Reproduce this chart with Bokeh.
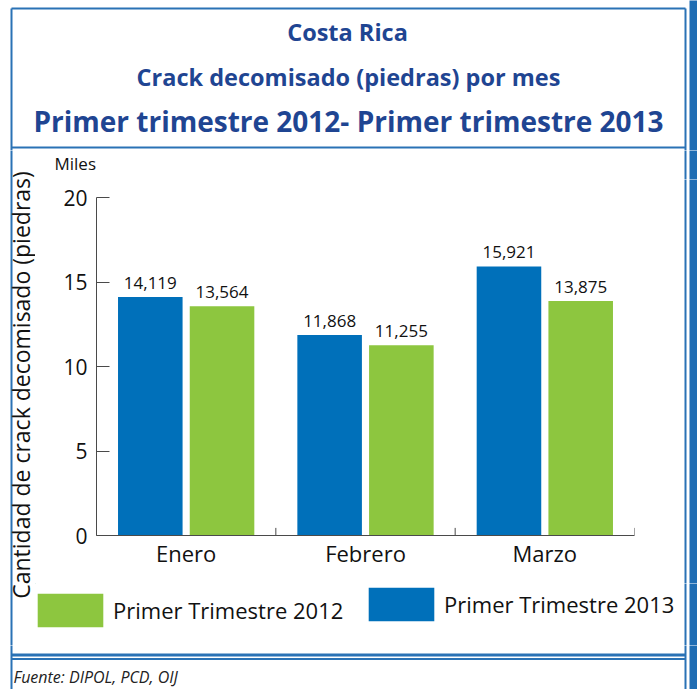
from bokeh.plotting import figure
from bokeh.models import (ColumnDataSource, FactorRange, Range1d, FixedTicker,
                          LabelSet, Legend, LegendItem)
from bokeh.layouts import column, row
from bokeh.transform import dodge
from bokeh.embed import file_html
from bokeh.resources import INLINE
from bokeh.core.properties import value

# ---- data ----
months = ["Enero", "Febrero", "Marzo"]
values_2013 = [14119, 11868, 15921]
values_2012 = [13564, 11255, 13875]
y_ticks = [0, 5, 10, 15, 20]
series_names = ["Primer Trimestre 2012", "Primer Trimestre 2013"]
titles = ["Costa Rica", "Crack decomisado (piedras) por mes",
          "Primer trimestre 2012- Primer trimestre 2013"]
y_title = "Cantidad de crack decomisado (piedras)"
unit_label = "Miles"
source_note = "Fuente: DIPOL, PCD, OIJ"

BLUE = "#0070BA"
GREEN = "#8DC63F"
TITLE_C = "#1F4592"
BORDER_C = "#2A72B5"
BAR_C = "#1F6DB3"
AXIS_C = "#4A4A4A"
FONT = "Open Sans"

W, H = 697, 689
BX0, BX1 = 11, 685          # outer box left / right lines
THICK = (689, 697)           # right thick rule
U_BOTTOM = 179               # bottom of the strip that carries the unit label


def deco(x0, x1, y0, y1):
    """A frame-only figure whose data units are page pixels (y grows downward)."""
    f = figure(width=x1 - x0, height=y1 - y0, x_range=Range1d(x0, x1), y_range=Range1d(y1, y0),
               x_axis_type=None, y_axis_type=None, min_border=0, toolbar_location=None,
               output_backend="svg", frame_align=False)
    f.outline_line_color = None
    f.background_fill_color = "white"
    f.border_fill_color = "white"
    if f.title is not None:
        f.title.visible = False
    return f


def vline(f, x, y0, y1, lw=2):
    # run slightly past the strip's edges so that adjacent strips join seamlessly
    f.segment(x0=[x], y0=[y0 - 2], x1=[x], y1=[y1 + 2], line_color=BORDER_C, line_width=lw)


def hline(f, y, x0, x1, lw=2):
    f.segment(x0=[x0], y0=[y], x1=[x1], y1=[y], line_color=BORDER_C, line_width=lw)


def thick(f, y0, y1):
    f.quad(left=[THICK[0]], right=[THICK[1] + 2], top=[y0 - 2], bottom=[y1 + 2],
           fill_color=BAR_C, line_color=None)


def txt(f, x, y, t, size, font=FONT, style="normal", color="#111111", align="center", angle=0):
    # y is the vertical middle of the text line
    f.text(x=[x], y=[y], text=[t], text_font=value(font), text_font_size=size,
           text_font_style=style, text_color=color, text_align=align,
           text_baseline="middle", angle=angle, angle_units="deg")


# ---- top: titles ----
T = deco(0, W, 0, 150)
hline(T, 8, BX0, BX1)
hline(T, 147, BX0, BX1)
T.segment(x0=[BX0, BX1], y0=[8, 8], x1=[BX0, BX1], y1=[152, 152], line_color=BORDER_C, line_width=2)
thick(T, 0, 150)
txt(T, 347, 31, titles[0], "23.5px", style="bold", color=TITLE_C)
txt(T, 348, 76.3, titles[1], "23.5px", style="bold", color=TITLE_C)
txt(T, 348, 120.5, titles[2], "28px", style="bold", color=TITLE_C)

# ---- left strip: y-axis title ----
L = deco(0, 35, 150, 645)
vline(L, BX0, 150, 645)
txt(L, 20, 384.5, y_title, "23px", angle=90)

# ---- strip above the plot: unit label ----
U = deco(35, W, 150, U_BOTTOM)
vline(U, BX1, 150, U_BOTTOM)
thick(U, 150, U_BOTTOM)
txt(U, 54, 163.2, unit_label, "17px", align="left")

# ---- main chart ----
src = ColumnDataSource(dict(
    month=months,
    y2013=[v / 1000 for v in values_2013],
    y2012=[v / 1000 for v in values_2012],
    lab2013=[f"{v:,}" for v in values_2013],
    lab2012=[f"{v:,}" for v in values_2012],
))

M = figure(width=613, height=583 - U_BOTTOM, x_range=FactorRange(*months), y_range=Range1d(0, 20),
           output_backend="svg", toolbar_location=None, frame_align=False,
           min_border_left=61, min_border_right=14, min_border_top=197 - U_BOTTOM,
           min_border_bottom=48)
M.xgrid.visible = False
M.ygrid.visible = False
M.outline_line_color = None
M.background_fill_color = "white"
M.border_fill_color = "white"

ya = M.yaxis[0]
ya.ticker = FixedTicker(ticks=y_ticks)
ya.major_tick_in = 13
ya.major_tick_out = 0
ya.minor_tick_in = 0
ya.minor_tick_out = 0
ya.axis_line_color = AXIS_C
ya.major_tick_line_color = AXIS_C
ya.major_label_text_font = FONT
ya.major_label_text_font_size = "21px"
ya.major_label_text_color = "#111111"
ya.major_label_standoff = 9

xa = M.xaxis[0]
xa.major_tick_in = 0
xa.major_tick_out = 0
xa.axis_line_color = AXIS_C
xa.major_label_text_font = FONT
xa.major_label_text_font_size = "22px"
xa.major_label_text_color = "#111111"
xa.major_label_standoff = 2

M.vbar(x=dodge("month", -0.2, range=M.x_range), top="y2013", width=0.36, source=src,
       fill_color=BLUE, line_color=None)
M.vbar(x=dodge("month", 0.2, range=M.x_range), top="y2012", width=0.36, source=src,
       fill_color=GREEN, line_color=None)

# category boundary ticks on the x axis
M.segment(x0=dodge("month", 0.5, range=M.x_range), y0=0,
          x1=dodge("month", 0.5, range=M.x_range), y1=0.45,
          source=src, line_color=AXIS_C, line_width=1)

for fld, ycol, off in (("lab2013", "y2013", -0.2), ("lab2012", "y2012", 0.2)):
    M.add_layout(LabelSet(x=dodge("month", off, range=M.x_range), y=ycol, text=fld, source=src,
                          text_align="center", text_baseline="alphabetic", y_offset=8,
                          text_font=value(FONT), text_font_size="17px", text_color="#111111"))

# ---- right strip ----
R = deco(648, W, U_BOTTOM, 583)
vline(R, BX1, U_BOTTOM, 583)
thick(R, U_BOTTOM, 583)

# ---- legend strip ----
B = deco(35, W, 583, 645)
vline(B, BX1, 583, 645)
thick(B, 583, 645)
# legend swatch carriers: a single zero-height bar lying outside the strip's view
swatch = ColumnDataSource(dict(x=[0], top=[0]))
g12 = B.vbar(x="x", top="top", width=1, source=swatch, fill_color=GREEN, line_color=None)
g13 = B.vbar(x="x", top="top", width=1, source=swatch, fill_color=BLUE, line_color=None)


def mk_legend(label, rend, loc):
    return Legend(items=[LegendItem(label=label, renderers=[rend])], location=loc,
                  orientation="horizontal", glyph_width=82, glyph_height=42, label_standoff=2,
                  padding=0, margin=0, spacing=0, border_line_alpha=0, background_fill_alpha=0,
                  label_text_font=FONT, label_text_font_size="22px", label_text_color="#111111")


B.add_layout(mk_legend(series_names[0], g12, (-6, 14)))
B.add_layout(mk_legend(series_names[1], g13, (325, 20)))

# ---- footer ----
F = deco(0, W, 645, H)
vline(F, BX0, 645, H)
vline(F, BX1, 645, H)
hline(F, 654.5, BX0, BX1, lw=3)
hline(F, 658.5, BX0, BX1, lw=2)
thick(F, 645, H)
txt(F, 13, 676, source_note, "16px", style="italic", color="#222222", align="left")

layout = column(
    T,
    row(L, column(U, row(M, R), B)),
    F,
)

open("out.html", "w").write(file_html(layout, INLINE))
